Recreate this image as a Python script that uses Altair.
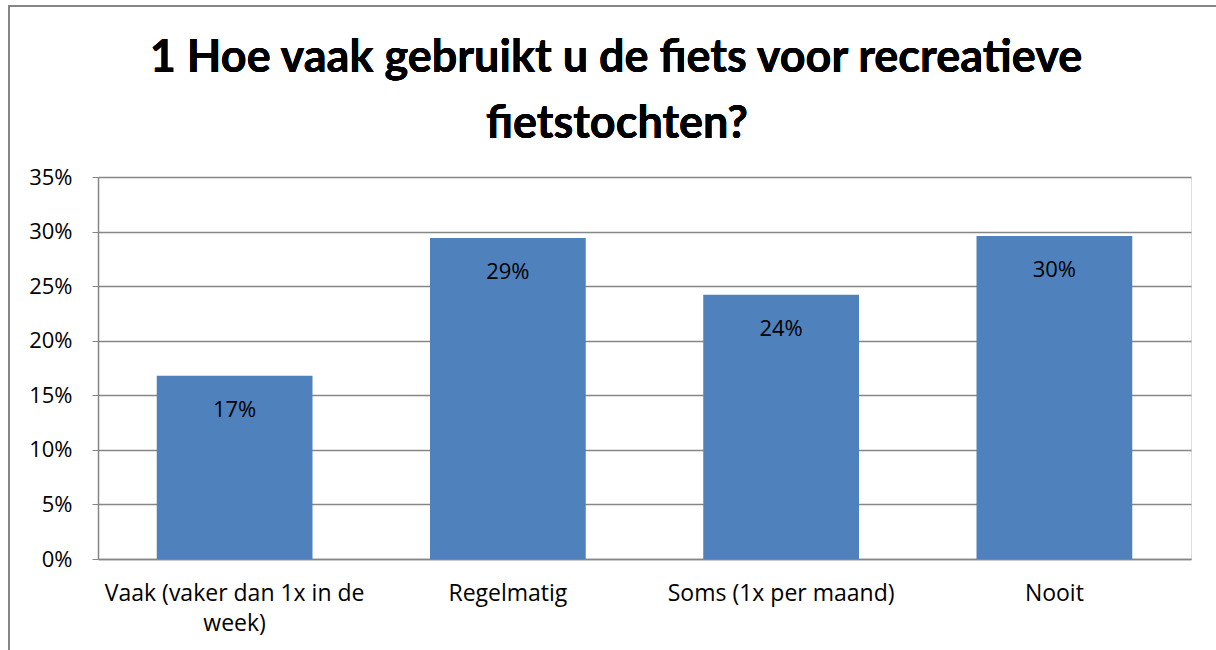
import altair as alt
import pandas as pd

categories = ["Vaak (vaker dan 1x in de week)", "Regelmatig", "Soms (1x per maand)", "Nooit"]
values = [0.168, 0.294, 0.242, 0.296]
labels = ["17%", "29%", "24%", "30%"]
title_lines = ["1 Hoe vaak gebruikt u de fiets voor recreatieve", "fietstochten?"]

df = pd.DataFrame({"cat": categories, "val": values, "lab": labels})

FONT = "Open Sans"
TFONT = "Lato"
W, H = 1093, 382

x_enc = alt.X(
    "cat:N",
    sort=categories,
    scale=alt.Scale(paddingInner=0.43, paddingOuter=0.215),
    axis=alt.Axis(
        title=None,
        labelAngle=0,
        labelFontSize=23,
        labelFont=FONT,
        labelColor="#000000",
        labelPadding=23,
        labelLineHeight=30,
        labelLimit=0,
        ticks=False,
        domainColor="#868686",
        domainWidth=1.5,
        labelExpr="datum.value == 'Vaak (vaker dan 1x in de week)' ? ['Vaak (vaker dan 1x in de', 'week)'] : datum.value",
    ),
)

y_enc = alt.Y(
    "val:Q",
    scale=alt.Scale(domain=[0, 0.35]),
    axis=alt.Axis(
        title=None,
        format=".0%",
        values=[0, 0.05, 0.1, 0.15, 0.2, 0.25, 0.3, 0.35],
        labelFontSize=22,
        labelFont=FONT,
        labelColor="#000000",
        labelPadding=20,
        tickSize=6,
        tickColor="#868686",
        domainColor="#868686",
        domainWidth=1.5,
        gridColor="#868686",
        gridWidth=1.5,
    ),
)

frame = alt.Chart(df).mark_rect(
    fillOpacity=0, stroke="#868686", strokeWidth=2, clip=False
).encode(
    x=alt.value(-89), x2=alt.value(1300), y=alt.value(-171), y2=alt.value(700)
)

bars = alt.Chart(df).mark_bar(color="#4F81BD").encode(x=x_enc, y=y_enc)

text = alt.Chart(df).mark_text(
    baseline="middle", dy=34, fontSize=22, font=FONT, color="#000000"
).encode(x=alt.X("cat:N", sort=categories), y="val:Q", text="lab:N")

title1 = alt.Chart(df).mark_text(
    text=title_lines[0], font=TFONT, fontSize=45, fontWeight="bold",
    color="#000000", align="center", baseline="alphabetic", clip=False
).encode(x=alt.value(518), y=alt.value(-105))

title2 = alt.Chart(df).mark_text(
    text=title_lines[1], font=TFONT, fontSize=45, fontWeight="bold",
    color="#000000", align="center", baseline="alphabetic", clip=False
).encode(x=alt.value(519), y=alt.value(-39))

chart = (
    alt.layer(frame, bars, text, title1, title2)
    .properties(
        width=W,
        height=H,
        autosize=alt.AutoSizeParams(type="none"),
        padding={"left": 98, "top": 177, "right": 25, "bottom": 91},
    )
    .configure_view(stroke=None)
    .configure(background="white")
)

chart.save("out.html", embed_options={"renderer": "svg", "actions": False})
